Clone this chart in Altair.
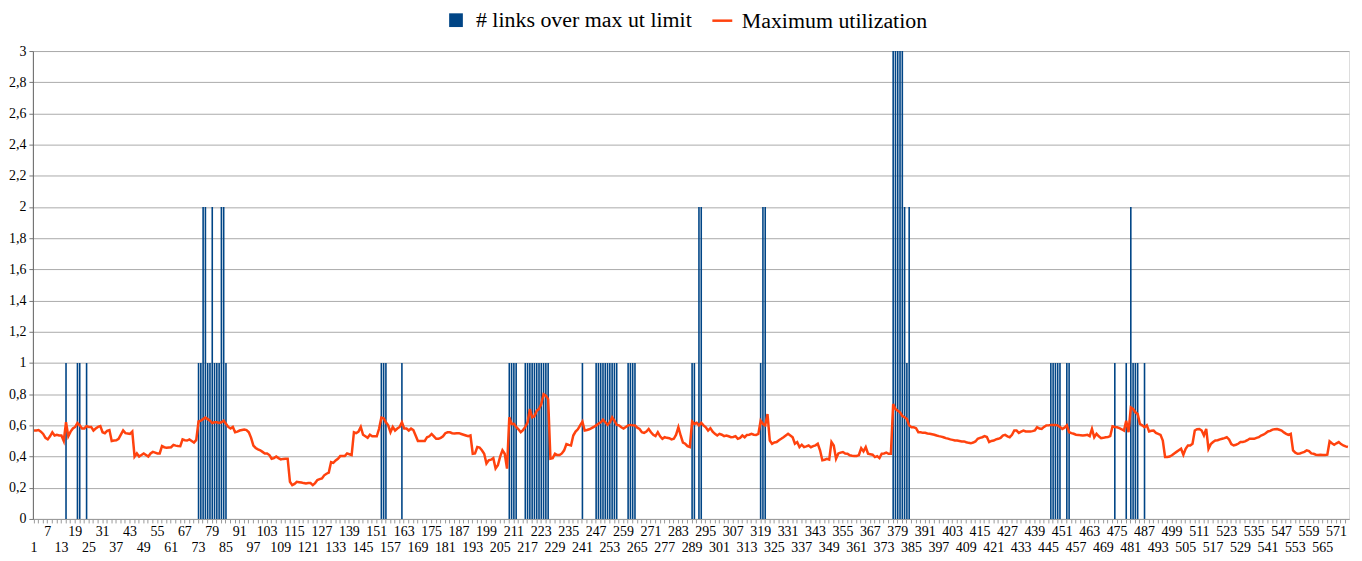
import altair as alt
import pandas as pd

# Maximum utilization, one value per category (1..576)
util = (
    [.567,.567,.57,.56,.545,.52,.51,.53,.556,.535,.54,.535]
    + [.535,.50,.62,.53,.56,.58,.59,.615,.60,.58,.58,.595]
    + [.59,.59,.567,.58,.59,.595,.556,.55,.565,.57,.50,.503]
    + [.505,.514,.54,.567,.55,.548,.545,.56,.40,.42,.40,.41]
    + [.42,.41,.40,.42,.43,.425,.42,.42,.467,.46,.456,.458]
    + [.46,.475,.47,.468,.467,.51,.505,.503,.51,.50,.49,.507]
    + [.625,.63,.64,.65,.64,.63,.615,.62,.62,.615,.62,.63]
    + [.61,.59,.58,.59,.556,.56,.567,.57,.573,.57,.556,.52]
    + [.47,.455,.446,.44,.43,.42,.42,.41,.386,.39,.40,.39]
    + [.382,.385,.386,.386,.238,.217,.225,.238,.236,.234,.23,.227]
    + [.23,.23,.217,.23,.25,.255,.26,.28,.29,.297,.365,.36]
    + [.375,.386,.403,.403,.403,.42,.415,.41,.556,.55,.56,.59]
    + [.54,.53,.52,.54,.53,.53,.53,.578,.65,.645,.62,.60]
    + [.556,.59,.567,.58,.59,.62,.58,.58,.567,.58,.57,.535]
    + [.50,.50,.50,.50,.524,.53,.545,.53,.514,.514,.52,.53]
    + [.55,.556,.556,.55,.548,.55,.55,.545,.54,.535,.53,.535]
    + [.418,.42,.461,.458,.44,.418,.355,.376,.38,.39,.323,.344]
    + [.40,.44,.418,.323,.652,.609,.61,.59,.575,.556,.57,.59]
    + [.62,.705,.652,.658,.694,.705,.737,.80,.79,.768,.386,.39]
    + [.418,.41,.41,.42,.44,.48,.475,.471,.535,.56,.575,.60]
    + [.624,.567,.57,.575,.582,.59,.60,.61,.62,.637,.62,.603]
    + [.62,.652,.63,.603,.60,.588,.58,.59,.60,.603,.60,.60]
    + [.585,.577,.556,.552,.56,.577,.556,.54,.531,.556,.53,.514]
    + [.524,.52,.518,.51,.514,.54,.588,.535,.49,.482,.467,.461]
    + [.624,.609,.616,.60,.616,.60,.588,.567,.582,.56,.546,.535]
    + [.546,.54,.531,.535,.53,.524,.526,.531,.514,.52,.535,.524]
    + [.539,.54,.546,.54,.539,.545,.63,.609,.60,.673,.503,.482]
    + [.49,.493,.505,.514,.524,.535,.546,.535,.524,.482,.493,.461]
    + [.476,.461,.465,.471,.46,.467,.472,.482,.44,.376,.38,.385]
    + [.38,.493,.471,.386,.42,.425,.429,.42,.418,.408,.405,.403]
    + [.403,.41,.454,.433,.461,.418,.415,.412,.397,.403,.39,.418]
    + [.42,.425,.418,.418,.737,.705,.694,.684,.66,.652,.641,.60]
    + [.588,.588,.582,.556,.556,.552,.552,.548,.546,.543,.54,.535]
    + [.531,.528,.524,.518,.515,.51,.507,.503,.503,.50,.497,.497]
    + [.492,.488,.485,.49,.497,.514,.52,.524,.531,.525,.493,.50]
    + [.503,.51,.514,.52,.535,.539,.53,.524,.54,.567,.567,.552]
    + [.56,.567,.561,.56,.561,.563,.567,.588,.58,.577,.59,.60]
    + [.60,.603,.603,.603,.60,.59,.577,.585,.60,.556,.55,.546]
    + [.54,.539,.537,.535,.537,.539,.531,.577,.524,.546,.53,.518]
    + [.52,.524,.526,.531,.594,.59,.588,.582,.575,.567,.63,.556]
    + [.715,.705,.684,.673,.609,.60,.588,.60,.561,.565,.567,.552]
    + [.546,.539,.503,.397,.397,.40,.408,.42,.43,.44,.45,.412]
    + [.45,.471,.471,.482,.567,.575,.577,.567,.535,.577,.45,.48]
    + [.493,.503,.505,.51,.514,.518,.524,.51,.48,.471,.476,.482]
    + [.493,.493,.497,.505,.514,.514,.514,.52,.524,.535,.54,.55]
    + [.561,.565,.573,.575,.577,.572,.567,.555,.546,.539,.546,.44]
    + [.425,.418,.42,.425,.43,.44,.435,.42,.418,.412,.41,.412]
    + [.41,.41,.412,.497,.485,.476,.485,.493,.48,.471,.465,.461]
)

# "# links over max ut limit" bars (category, count)
bar_cats = [15, 20, 21, 24,
            73, 74, 75, 76, 77, 78, 79, 80, 81, 82, 83, 84, 85,
            153, 154, 155, 162,
            209, 210, 211, 212,
            216, 217, 218, 219, 220, 221, 222, 223, 224, 225, 226,
            241,
            247, 248, 249, 250, 251, 252, 253, 254, 255, 256,
            261, 262, 263, 264,
            289, 290, 292, 293,
            319, 320, 321,
            377, 378, 379, 380, 381, 382, 383, 384,
            446, 447, 448, 449, 450, 453, 454,
            474, 479, 481, 482, 483, 484, 487]
bar_links = [1, 1, 1, 1,
             1, 1, 2, 2, 1, 1, 2, 1, 1, 1, 2, 2, 1,
             1, 1, 1, 1,
             1, 1, 1, 1,
             1, 1, 1, 1, 1, 1, 1, 1, 1, 1, 1,
             1,
             1, 1, 1, 1, 1, 1, 1, 1, 1, 1,
             1, 1, 1, 1,
             1, 1, 2, 2,
             1, 2, 2,
             3, 3, 3, 3, 3, 2, 1, 2,
             1, 1, 1, 1, 1, 1, 1,
             1, 1, 2, 1, 1, 1, 1]

series_bar = "# links over max ut limit"
series_line = "Maximum utilization"

y_ticks = [0, 0.2, 0.4, 0.6, 0.8, 1, 1.2, 1.4, 1.6, 1.8, 2, 2.2, 2.4, 2.6, 2.8, 3]

cats = list(range(1, len(util) + 1))
tick_values = cats[::2]

df_line = pd.DataFrame({"cat": cats, "util": util, "series": series_line})
df_bar = pd.DataFrame({"cat": bar_cats, "links": bar_links, "series": series_bar})

FONT = "Liberation Serif"

x_axis = alt.Axis(
    values=tick_values,
    labelExpr="(datum.value - 1) % 6 != 0 ? '' : (((datum.value - 1) / 6) % 2 == 1 ? datum.label : ['', datum.label])",
    labelAngle=0,
    labelFont=FONT,
    labelFontSize=14,
    labelColor="#000000",
    labelBaseline="top",
    labelLineHeight=16,
    labelPadding=2,
    labelOverlap=False,
    labelFlush=False,
    tickColor="#999999",
    tickSize=4,
    domainColor="#999999",
    grid=False,
    title=None,
)

y_axis = alt.Axis(
    values=y_ticks,
    labelExpr="replace(format(datum.value, '.1~f'), '.', ',')",
    labelFont=FONT,
    labelFontSize=14,
    labelColor="#000000",
    labelPadding=3,
    tickColor="#777777",
    tickSize=4,
    domainColor="#666666",
    grid=True,
    gridColor="#aaaaaa",
    gridWidth=1,
    title=None,
)

x_enc = alt.X("cat:O", scale=alt.Scale(domain=cats, paddingInner=0, paddingOuter=0), axis=x_axis)
y_scale = alt.Scale(domain=[0, 3], nice=False, zero=True)

bars = alt.Chart(df_bar).mark_bar(size=1.6).encode(
    x=x_enc,
    y=alt.Y("links:Q", scale=y_scale, axis=y_axis),
    color=alt.Color(
        "series:N",
        scale=alt.Scale(domain=[series_bar], range=["#004586"]),
        legend=alt.Legend(
            orient="none", legendX=414, legendY=-42, title=None,
            symbolType="square", symbolSize=190, symbolStrokeWidth=0,
            labelFont=FONT, labelFontSize=22, labelColor="#000000",
            labelOffset=9, labelLimit=0, padding=0,
        ),
    ),
)

line = alt.Chart(df_line).mark_line(strokeWidth=2.5, interpolate="linear").encode(
    x=x_enc,
    y=alt.Y("util:Q", scale=y_scale, axis=y_axis),
    stroke=alt.Stroke(
        "series:N",
        scale=alt.Scale(domain=[series_line], range=["#ff420e"]),
        legend=alt.Legend(
            orient="none", legendX=681, legendY=-42, title=None,
            symbolType="stroke", symbolSize=400, symbolStrokeWidth=2.5,
            labelFont=FONT, labelFontSize=22, labelColor="#000000",
            labelOffset=8, labelLimit=0, padding=0,
        ),
    ),
)

chart = alt.layer(bars, line).resolve_scale(color="independent", stroke="independent").properties(
    width=1322,
    height=470,
    autosize=alt.AutoSizeParams(type="none"),
    padding={"left": 25, "top": 42, "right": 5, "bottom": 41},
).configure_view(stroke="#aaaaaa", strokeWidth=1).configure(font=FONT)

chart.save("out.html", embed_options={"renderer": "svg", "actions": False})
